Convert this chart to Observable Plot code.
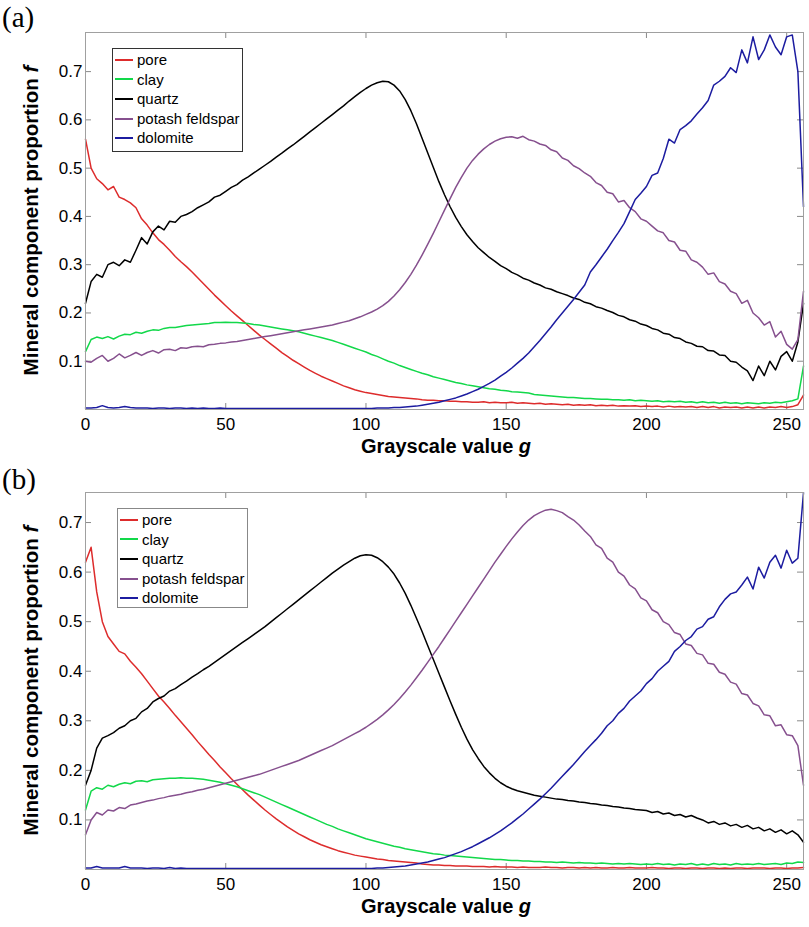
<!DOCTYPE html>
<html>
<head>
<meta charset="utf-8">
<script src="https://cdn.jsdelivr.net/npm/d3@7"></script>
<script src="https://cdn.jsdelivr.net/npm/@observablehq/plot@0.6"></script>
<style>
  html, body { margin: 0; padding: 0; background: #fff; }
  #wrap { position: relative; width: 809px; height: 927px; font-family: "Liberation Sans", Arial, sans-serif; }
  .legend { position: absolute; background: #fff; font-size: 15px; box-sizing: border-box; }
  .legend .row { height: 19.6px; line-height: 19.6px; white-space: nowrap; display: flex; align-items: center; }
  .legend .sw { display: inline-block; width: 18px; height: 2px; margin-left: 2px; margin-right: 4px; }
  .letter { position: absolute; font-family: "Liberation Serif", "Times New Roman", serif; font-size: 29px; line-height: 1; }
</style>
</head>
<body>
<div id="wrap"></div>
<script>
// ---------- data ----------
const names = ["pore", "clay", "quartz", "potash feldspar", "dolomite"];
const colors = ["#dd2c2c", "#12d84a", "#000000", "#86508e", "#1c1ca0"];
const xTicks = [0, 50, 100, 150, 200, 250];
const yTicks = [0.1, 0.2, 0.3, 0.4, 0.5, 0.6, 0.7];
// grayscale values g = 0, 2, 4, ..., 256
const G = d3.range(0, 257, 2);

// Panel (a)
const poreA = [
  0.56,0.50,0.478,0.468,0.455,0.462,0.44,0.435,0.428,0.418,
  0.395,0.382,0.366,0.352,0.342,0.33,0.317,0.306,0.296,0.285,
  0.273,0.261,0.249,0.237,0.226,0.215,0.204,0.194,0.184,0.174,
  0.164,0.154,0.145,0.136,0.127,0.118,0.11,0.102,0.095,0.088,
  0.081,0.075,0.069,0.064,0.059,0.054,0.049,0.045,0.041,0.038,
  0.035,0.033,0.031,0.029,0.027,0.026,0.025,0.024,0.023,0.022,
  0.02,0.019,0.019,0.018,0.018,0.017,0.017,0.016,0.016,0.015,
  0.015,0.016,0.014,0.015,0.014,0.014,0.015,0.013,0.014,0.013,
  0.012,0.013,0.011,0.012,0.011,0.01,0.011,0.009,0.01,0.009,
  0.01,0.008,0.009,0.008,0.009,0.007,0.008,0.007,0.008,0.006,
  0.007,0.006,0.007,0.005,0.007,0.005,0.006,0.005,0.006,0.004,
  0.006,0.004,0.006,0.003,0.005,0.004,0.005,0.003,0.005,0.003,
  0.005,0.003,0.005,0.004,0.006,0.004,0.006,0.01,0.03
];
const clayA = [
  0.12,0.145,0.15,0.147,0.151,0.146,0.152,0.156,0.155,0.16,
  0.158,0.162,0.165,0.164,0.168,0.17,0.17,0.172,0.174,0.175,
  0.176,0.177,0.178,0.18,0.18,0.181,0.18,0.18,0.179,0.178,
  0.176,0.175,0.173,0.171,0.169,0.167,0.165,0.163,0.161,0.158,
  0.155,0.152,0.149,0.146,0.143,0.139,0.135,0.131,0.127,0.123,
  0.119,0.114,0.11,0.105,0.1,0.096,0.091,0.087,0.083,0.079,
  0.075,0.072,0.068,0.065,0.062,0.059,0.056,0.054,0.051,0.049,
  0.047,0.045,0.043,0.042,0.04,0.039,0.037,0.036,0.035,0.034,
  0.031,0.03,0.029,0.028,0.027,0.026,0.025,0.025,0.024,0.023,
  0.023,0.022,0.021,0.021,0.02,0.02,0.019,0.02,0.018,0.019,
  0.018,0.017,0.018,0.016,0.017,0.016,0.017,0.015,0.016,0.014,
  0.016,0.014,0.015,0.013,0.015,0.013,0.014,0.012,0.014,0.013,
  0.012,0.014,0.013,0.015,0.014,0.016,0.018,0.022,0.09
];
const quartzA = [
  0.22,0.265,0.28,0.274,0.3,0.305,0.298,0.31,0.305,0.33,
  0.356,0.343,0.368,0.38,0.372,0.39,0.388,0.4,0.404,0.41,
  0.418,0.424,0.43,0.44,0.444,0.452,0.46,0.466,0.475,0.482,
  0.49,0.498,0.506,0.514,0.523,0.531,0.54,0.548,0.557,0.566,
  0.575,0.584,0.593,0.602,0.611,0.62,0.629,0.639,0.648,0.657,
  0.665,0.672,0.677,0.68,0.679,0.672,0.66,0.642,0.619,0.592,
  0.562,0.532,0.502,0.472,0.445,0.42,0.398,0.379,0.362,0.348,
  0.335,0.325,0.315,0.307,0.298,0.292,0.284,0.279,0.272,0.268,
  0.262,0.258,0.252,0.249,0.244,0.24,0.236,0.231,0.228,0.222,
  0.219,0.213,0.21,0.205,0.201,0.195,0.192,0.186,0.183,0.177,
  0.174,0.168,0.165,0.158,0.156,0.149,0.147,0.14,0.137,0.131,
  0.13,0.122,0.121,0.113,0.112,0.1,0.098,0.088,0.08,0.06,
  0.09,0.07,0.1,0.082,0.11,0.12,0.1,0.14,0.22
];
const potashA = [
  0.1,0.098,0.106,0.112,0.1,0.106,0.115,0.107,0.112,0.118,
  0.112,0.118,0.122,0.117,0.124,0.125,0.122,0.128,0.127,0.13,
  0.131,0.13,0.134,0.135,0.137,0.138,0.14,0.141,0.143,0.145,
  0.147,0.149,0.151,0.153,0.155,0.157,0.159,0.161,0.163,0.165,
  0.167,0.169,0.171,0.173,0.175,0.178,0.181,0.184,0.188,0.192,
  0.197,0.202,0.208,0.215,0.224,0.235,0.248,0.263,0.28,0.299,
  0.32,0.342,0.365,0.389,0.413,0.437,0.46,0.481,0.5,0.516,
  0.529,0.54,0.549,0.556,0.561,0.564,0.565,0.562,0.566,0.559,
  0.556,0.55,0.547,0.538,0.534,0.521,0.516,0.505,0.499,0.49,
  0.483,0.47,0.464,0.45,0.447,0.43,0.433,0.418,0.41,0.395,
  0.39,0.38,0.37,0.366,0.35,0.347,0.33,0.328,0.31,0.305,
  0.295,0.28,0.283,0.265,0.26,0.245,0.24,0.22,0.226,0.2,
  0.19,0.175,0.182,0.15,0.162,0.135,0.125,0.145,0.245
];
const dolomiteA = [
  0.003,0.003,0.004,0.008,0.004,0.003,0.004,0.006,0.004,0.003,
  0.003,0.003,0.002,0.003,0.003,0.002,0.003,0.003,0.002,0.003,
  0.002,0.003,0.002,0.002,0.003,0.002,0.002,0.002,0.002,0.002,
  0.002,0.002,0.002,0.002,0.002,0.002,0.002,0.002,0.002,0.002,
  0.002,0.002,0.002,0.002,0.002,0.002,0.002,0.002,0.002,0.002,
  0.002,0.002,0.003,0.003,0.003,0.004,0.004,0.005,0.006,0.007,
  0.009,0.011,0.013,0.015,0.018,0.021,0.024,0.028,0.032,0.037,
  0.042,0.048,0.054,0.061,0.069,0.077,0.086,0.096,0.106,0.117,
  0.13,0.143,0.157,0.171,0.186,0.2,0.214,0.228,0.243,0.258,
  0.285,0.3,0.316,0.332,0.35,0.367,0.385,0.41,0.435,0.448,
  0.462,0.485,0.49,0.52,0.56,0.552,0.58,0.588,0.598,0.612,
  0.625,0.64,0.672,0.68,0.69,0.708,0.698,0.745,0.718,0.772,
  0.725,0.745,0.776,0.751,0.735,0.772,0.776,0.70,0.42
];

// Panel (b)
const poreB = [
  0.62,0.65,0.56,0.5,0.47,0.455,0.44,0.435,0.42,0.408,
  0.395,0.38,0.365,0.35,0.338,0.325,0.311,0.298,0.285,0.272,
  0.258,0.245,0.232,0.22,0.207,0.195,0.183,0.172,0.161,0.15,
  0.14,0.13,0.12,0.111,0.102,0.094,0.086,0.079,0.072,0.066,
  0.06,0.055,0.05,0.046,0.042,0.038,0.035,0.032,0.029,0.027,
  0.025,0.023,0.021,0.02,0.018,0.017,0.016,0.015,0.014,0.013,
  0.011,0.01,0.009,0.009,0.008,0.008,0.007,0.007,0.007,0.006,
  0.006,0.006,0.005,0.006,0.005,0.005,0.005,0.004,0.005,0.004,
  0.004,0.004,0.005,0.004,0.004,0.003,0.004,0.004,0.003,0.004,
  0.003,0.004,0.003,0.003,0.004,0.003,0.003,0.004,0.003,0.003,
  0.003,0.004,0.003,0.003,0.002,0.003,0.003,0.002,0.003,0.003,
  0.002,0.003,0.003,0.002,0.003,0.002,0.003,0.003,0.002,0.003,
  0.003,0.003,0.002,0.003,0.003,0.002,0.003,0.003,0.004
];
const clayB = [
  0.12,0.158,0.165,0.162,0.17,0.167,0.172,0.175,0.173,0.178,
  0.179,0.177,0.181,0.182,0.183,0.184,0.184,0.185,0.184,0.184,
  0.183,0.182,0.18,0.178,0.176,0.173,0.17,0.167,0.163,0.159,
  0.155,0.151,0.146,0.141,0.136,0.131,0.126,0.121,0.116,0.111,
  0.106,0.101,0.096,0.091,0.087,0.082,0.078,0.074,0.07,0.066,
  0.062,0.059,0.056,0.053,0.05,0.047,0.045,0.042,0.04,0.038,
  0.036,0.034,0.032,0.031,0.029,0.028,0.027,0.026,0.025,0.024,
  0.023,0.022,0.021,0.02,0.02,0.019,0.018,0.018,0.017,0.017,
  0.016,0.016,0.015,0.015,0.014,0.015,0.014,0.013,0.014,0.013,
  0.013,0.012,0.013,0.012,0.011,0.012,0.011,0.012,0.011,0.01,
  0.011,0.01,0.012,0.01,0.011,0.009,0.011,0.01,0.012,0.009,
  0.011,0.009,0.012,0.01,0.011,0.009,0.012,0.01,0.011,0.01,
  0.012,0.01,0.011,0.012,0.01,0.013,0.012,0.015,0.014
];
const quartzB = [
  0.17,0.2,0.245,0.265,0.27,0.276,0.285,0.29,0.3,0.305,
  0.318,0.325,0.338,0.345,0.35,0.36,0.365,0.373,0.38,0.388,
  0.395,0.403,0.41,0.418,0.426,0.434,0.442,0.45,0.458,0.466,
  0.474,0.482,0.49,0.499,0.508,0.517,0.526,0.535,0.544,0.553,
  0.562,0.571,0.58,0.589,0.598,0.606,0.614,0.621,0.628,0.633,
  0.635,0.634,0.629,0.621,0.61,0.596,0.578,0.557,0.533,0.507,
  0.48,0.452,0.424,0.396,0.368,0.34,0.313,0.287,0.263,0.242,
  0.224,0.208,0.195,0.184,0.175,0.168,0.163,0.159,0.156,0.153,
  0.15,0.148,0.146,0.144,0.142,0.141,0.139,0.138,0.136,0.135,
  0.133,0.132,0.13,0.129,0.127,0.126,0.124,0.123,0.121,0.12,
  0.119,0.115,0.117,0.112,0.114,0.109,0.111,0.106,0.109,0.104,
  0.1,0.094,0.097,0.091,0.094,0.088,0.091,0.085,0.089,0.082,
  0.085,0.078,0.082,0.075,0.08,0.072,0.078,0.07,0.055
];
const potashB = [
  0.07,0.1,0.115,0.11,0.12,0.118,0.125,0.123,0.13,0.132,
  0.135,0.138,0.14,0.143,0.145,0.148,0.15,0.152,0.155,0.157,
  0.16,0.162,0.165,0.168,0.171,0.174,0.177,0.18,0.183,0.186,
  0.189,0.192,0.196,0.2,0.204,0.208,0.212,0.216,0.22,0.225,
  0.23,0.235,0.24,0.245,0.25,0.256,0.262,0.268,0.274,0.28,
  0.287,0.295,0.303,0.312,0.322,0.333,0.345,0.358,0.372,0.387,
  0.402,0.418,0.434,0.45,0.467,0.484,0.501,0.518,0.535,0.552,
  0.569,0.586,0.603,0.62,0.636,0.652,0.667,0.681,0.694,0.705,
  0.714,0.72,0.725,0.727,0.724,0.72,0.712,0.705,0.695,0.683,
  0.672,0.655,0.648,0.628,0.62,0.6,0.592,0.574,0.566,0.548,
  0.542,0.524,0.518,0.5,0.494,0.478,0.474,0.455,0.452,0.436,
  0.433,0.416,0.414,0.398,0.394,0.378,0.374,0.355,0.352,0.335,
  0.33,0.312,0.31,0.29,0.292,0.272,0.27,0.25,0.17
];
const dolomiteB = [
  0.003,0.003,0.006,0.003,0.003,0.003,0.003,0.006,0.003,0.003,
  0.003,0.002,0.003,0.003,0.002,0.004,0.002,0.003,0.002,0.002,
  0.002,0.002,0.002,0.002,0.002,0.002,0.002,0.002,0.002,0.002,
  0.002,0.002,0.002,0.002,0.002,0.002,0.002,0.002,0.002,0.002,
  0.002,0.002,0.002,0.002,0.002,0.002,0.002,0.002,0.002,0.002,
  0.002,0.002,0.003,0.003,0.004,0.005,0.006,0.007,0.009,0.011,
  0.013,0.015,0.018,0.021,0.024,0.028,0.032,0.036,0.041,0.046,
  0.052,0.058,0.064,0.071,0.078,0.086,0.094,0.103,0.112,0.122,
  0.132,0.142,0.153,0.164,0.176,0.188,0.2,0.212,0.225,0.238,
  0.25,0.262,0.275,0.29,0.3,0.315,0.325,0.34,0.35,0.36,
  0.375,0.385,0.4,0.41,0.42,0.44,0.45,0.462,0.47,0.485,
  0.49,0.505,0.51,0.53,0.545,0.556,0.56,0.574,0.59,0.566,
  0.61,0.588,0.62,0.634,0.608,0.644,0.618,0.628,0.76
];

const panels = [
  { letter: "(a)", series: [poreA, clayA, quartzA, potashA, dolomiteA], yMax: 0.781,
    height: 460, mt: 32, mb: 51, top: 0, letterTop: 3,
    legend: { left: 112, top: 48, width: 131, height: 104, border: "#333" } },
  { letter: "(b)", series: [poreB, clayB, quartzB, potashB, dolomiteB], yMax: 0.7606,
    height: 467, mt: 32, mb: 58, top: 460, letterTop: 465,
    legend: { left: 117, top: 508, width: 131, height: 100, border: "#888" } }
];

// ---------- drawing ----------
const W = 809, ML = 85, MR = 6;
const wrap = document.getElementById("wrap");

panels.forEach(p => {
  const innerH = p.height - p.mt - p.mb;
  const innerW = W - ML - MR;
  const lineMarks = names.map((n, k) =>
    Plot.line(G.map((g, i) => ({ g, f: p.series[k][i] })),
      { x: "g", y: "f", stroke: colors[k], strokeWidth: 1.5 }));
  const svg = Plot.plot({
    width: W, height: p.height,
    marginLeft: ML, marginRight: MR, marginTop: p.mt, marginBottom: p.mb,
    x: { domain: [0, 256] },
    y: { domain: [0, p.yMax] },
    style: { fontFamily: "Liberation Sans, Arial, sans-serif", fontSize: "17px", color: "#000", background: "#fff" },
    marks: [
      Plot.axisX({ ticks: xTicks, tickSize: 0, tickPadding: 8, label: null, tickFormat: d => String(d) }),
      Plot.axisY({ ticks: yTicks, tickSize: 0, tickPadding: 3, label: null, tickFormat: d3.format(".1f") }),
      Plot.tickX(xTicks, { x: d => d, stroke: "#8a8a8a", insetTop: innerH - 6 }),
      Plot.tickX(xTicks, { x: d => d, stroke: "#8a8a8a", insetBottom: innerH - 6 }),
      Plot.tickY(yTicks, { y: d => d, stroke: "#8a8a8a", insetRight: innerW - 6 }),
      Plot.tickY(yTicks, { y: d => d, stroke: "#8a8a8a", insetLeft: innerW - 6 }),
      ...lineMarks,
      Plot.frame({ stroke: "#a0a0a0" })
    ]
  });
  svg.style.position = "absolute";
  svg.style.left = "0px";
  svg.style.top = p.top + "px";
  wrap.appendChild(svg);

  const s = d3.select(svg);
  // x axis label
  const xl = s.append("text")
    .attr("x", ML + innerW / 2 + 2).attr("y", p.mt + innerH + 44)
    .attr("text-anchor", "middle").attr("font-weight", "bold").attr("font-size", 20)
    .attr("font-family", "Liberation Sans, Arial, sans-serif").attr("fill", "#000");
  xl.append("tspan").text("Grayscale value ");
  xl.append("tspan").attr("font-style", "italic").text("g");
  // y axis label
  const yl = s.append("text")
    .attr("transform", `translate(38,${p.mt + innerH / 2}) rotate(-90)`)
    .attr("text-anchor", "middle").attr("font-weight", "bold").attr("font-size", 20.5)
    .attr("font-family", "Liberation Sans, Arial, sans-serif").attr("fill", "#000");
  yl.append("tspan").text("Mineral component proportion ");
  yl.append("tspan").attr("font-style", "italic").text("f");

  // panel letter
  const L = document.createElement("div");
  L.className = "letter";
  L.style.left = "2px";
  L.style.top = p.letterTop + "px";
  L.textContent = p.letter;
  wrap.appendChild(L);

  // legend
  const lg = document.createElement("div");
  lg.className = "legend";
  Object.assign(lg.style, {
    left: p.legend.left + "px", top: p.legend.top + "px",
    width: p.legend.width + "px", height: p.legend.height + "px",
    border: "1px solid " + p.legend.border, paddingTop: "1px"
  });
  names.forEach((n, k) => {
    const row = document.createElement("div");
    row.className = "row";
    const sw = document.createElement("span");
    sw.className = "sw";
    sw.style.background = colors[k];
    const tx = document.createElement("span");
    tx.textContent = n;
    row.appendChild(sw);
    row.appendChild(tx);
    lg.appendChild(row);
  });
  wrap.appendChild(lg);
});
</script>
</body>
</html>
